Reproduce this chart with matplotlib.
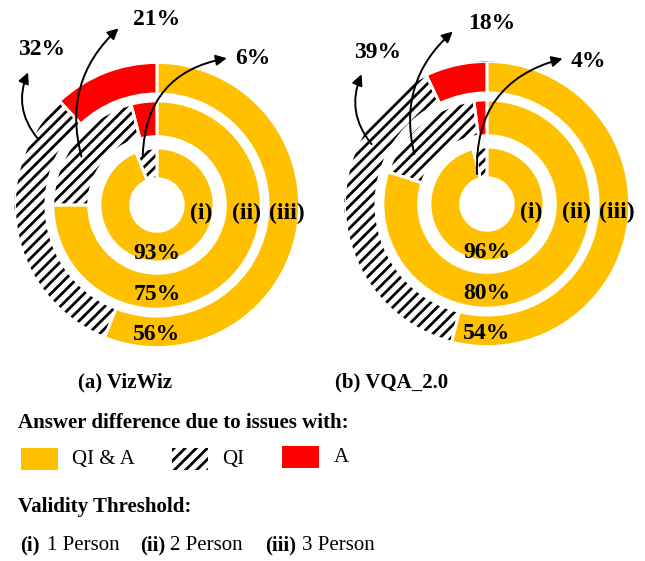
import matplotlib
matplotlib.use('Agg')
import matplotlib.pyplot as plt
from matplotlib.patches import Wedge, Rectangle

plt.rcParams['font.family'] = ['Liberation Serif', 'DejaVu Serif']
plt.rcParams['hatch.linewidth'] = 2.0

# valores (anillo interior -> exterior)
rings = ['(i)', '(ii)', '(iii)']
vizwiz_qia = [93, 75, 56]
vizwiz_qi = [6, 21, 32]
vizwiz_a = [0, 4, 12]
vqa_qia = [96, 80, 54]
vqa_qi = [4, 18, 39]
vqa_a = [0, 2, 7]

YELLOW = '#FFC000'
RED = '#FF0000'
HATCH = '///'

# radios de cada anillo (exterior, ancho)
radii = [(0.40, 0.215), (0.73, 0.25), (1.0, 0.22)]

W, H = 645, 561
fig = plt.figure(figsize=(W / 100, H / 100), dpi=100)


def px_axes(cx, cy, r=142.5):
    return fig.add_axes([(cx - r) / W, (H - cy - r) / H, 2 * r / W, 2 * r / H])


def draw_donut(ax, qia, qi, a, arrows):
    for k in range(len(rings)):
        r, w = radii[k]
        vals = [qia[k], qi[k], a[k]]
        wedges, _ = ax.pie(vals, radius=r, startangle=90, counterclock=False,
                           colors=[YELLOW, 'white', RED],
                           wedgeprops=dict(width=w, linewidth=0))
        wedges[1].set_edgecolor('black')
        wedges[1].set_hatch(HATCH)
        for wd, v in zip(wedges, vals):
            if v == 0:
                continue
            ax.add_patch(Wedge((0, 0), r, wd.theta1, wd.theta2, width=w,
                               fill=False, edgecolor='white', linewidth=2))
        mid = r - w / 2
        dy = 0.05 if k == 0 else 0.02
        ax.text(0, -mid - dy, f'{qia[k]}%', ha='center', va='center',
                fontsize=17, fontweight='bold')
        ax.text(mid + 0.02, -0.06, rings[k], ha='center', va='center',
                fontsize=17, fontweight='bold')
    for k, (tpos, tail, head, rad) in enumerate(arrows):
        ax.annotate('', xy=head, xytext=tail, annotation_clip=False,
                    arrowprops=dict(arrowstyle='-|>', color='black', lw=1.4,
                                    mutation_scale=16,
                                    connectionstyle=f'arc3,rad={rad}',
                                    shrinkA=0, shrinkB=0))
        ax.text(tpos[0], tpos[1], f'{qi[k]}%', ha='center', va='center',
                fontsize=17, fontweight='bold', clip_on=False)
    ax.set_xlim(-1, 1)
    ax.set_ylim(-1, 1)
    ax.set_aspect('equal')
    ax.axis('off')


ax1 = px_axes(157, 205)
draw_donut(ax1, vizwiz_qia, vizwiz_qi, vizwiz_a, [
    ((0.67, 1.03), (-0.10, 0.35), (0.49, 1.03), -0.4),
    ((0.0, 1.30), (-0.53, 0.34), (-0.27, 1.24), -0.3),
    ((-0.81, 1.09), (-0.84, 0.47), (-0.905, 0.93), -0.3),
])

ax2 = px_axes(487, 204)
draw_donut(ax2, vqa_qia, vqa_qi, vqa_a, [
    ((0.71, 1.00), (-0.07, 0.21), (0.53, 1.02), -0.4),
    ((0.03, 1.27), (-0.51, 0.35), (-0.24, 1.21), -0.3),
    ((-0.77, 1.06), (-0.81, 0.42), (-0.88, 0.91), -0.3),
])

# capa de textos y leyenda en pixeles
lay = fig.add_axes([0, 0, 1, 1], zorder=-1)
lay.set_xlim(0, W)
lay.set_ylim(H, 0)
lay.axis('off')

lay.text(125, 382, '(a) VizWiz', ha='center', va='center', fontsize=15, fontweight='bold')
lay.text(392, 382, '(b) VQA_2.0', ha='center', va='center', fontsize=15, fontweight='bold')
lay.text(18, 423, 'Answer difference due to issues with:', ha='left', va='center',
         fontsize=15, fontweight='bold')

lay.add_patch(Rectangle((21, 448), 37, 22, facecolor=YELLOW, linewidth=0))
lay.text(72, 459, 'QI & A', ha='left', va='center', fontsize=15)
lay.add_patch(Rectangle((172, 448), 36, 22, facecolor='white', edgecolor='black',
                        hatch=HATCH, linewidth=0))
lay.text(222, 459, 'QI', ha='left', va='center', fontsize=15)
lay.add_patch(Rectangle((282, 446), 37, 22, facecolor=RED, linewidth=0))
lay.text(334, 457, 'A', ha='left', va='center', fontsize=15)

lay.text(18, 507, 'Validity Threshold:', ha='left', va='center', fontsize=15, fontweight='bold')
for x_b, x_t, lab, txt in [(20, 47, '(i)', '1 Person'), (140, 170, '(ii)', '2 Person'),
                           (265, 302, '(iii)', '3 Person')]:
    lay.text(x_b, 545, lab, ha='left', va='center', fontsize=15, fontweight='bold')
    lay.text(x_t, 545, txt, ha='left', va='center', fontsize=15)

fig.savefig('out.png', dpi=100)
